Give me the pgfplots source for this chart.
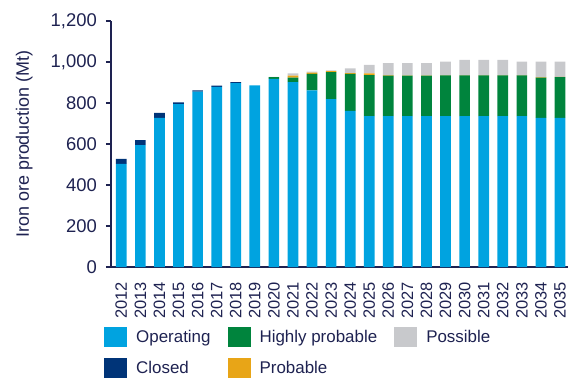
\documentclass[border=0pt]{standalone}
\usepackage{pgfplots}
\usepackage{pgfplotstable}
\pgfplotsset{compat=1.18}
\usepackage{fontspec}
\setmainfont{Liberation Sans}
\definecolor{opc}{RGB}{0,163,224}
\definecolor{clc}{RGB}{0,52,120}
\definecolor{hpc}{RGB}{0,132,61}
\definecolor{prc}{RGB}{232,165,23}
\definecolor{poc}{RGB}{200,201,204}
\definecolor{txc}{RGB}{30,34,81}

\pgfplotstableread{
x op cl hp pr po
0 503 25 0 0 0
1 595 24 0 0 0
2 728 24 0 0 0
3 795 8 0 0 0
4 855 6 0 0 0
5 879 6 0 0 0
6 897 5 0 0 0
7 886 0 0 0 0
8 918 0 8 0 1
9 902 0 22 10 10
10 861 0 81 6 5
11 819 0 131 5 4
12 761 0 181 4 23
13 736 0 200 8 42
14 736 0 198 2 58
15 736 0 198 1 59
16 736 0 198 1 59
17 736 0 199 1 66
18 736 0 199 1 74
19 736 0 199 1 74
20 736 0 199 1 74
21 736 0 199 1 66
22 728 0 196 2 76
23 728 0 198 1 75
}\datatable

\begin{document}
\begin{tikzpicture}
\begin{axis}[
  scale only axis, width=457bp, height=246bp,
  xmin=-0.54, xmax=23.42, ymin=0, ymax=1200,
  ybar stacked, bar width=0.56,
  axis lines*=left,
  axis line style={txc, line width=1.2bp},
  tick align=outside,
  major tick length=5bp,
  xtick={0,...,23},
  xticklabels={2012,2013,2014,2015,2016,2017,2018,2019,2020,2021,2022,2023,2024,2025,2026,2027,2028,2029,2030,2031,2032,2033,2034,2035},
  x tick style={draw=none},
  xticklabel style={rotate=90, anchor=east, font=\fontsize{16.5}{16.5}\selectfont, text=txc, inner ysep=0pt, inner xsep=10bp},
  ytick={0,200,400,600,800,1000,1200},
  yticklabels={0,200,400,600,800,{1,000},{1,200}},
  y tick style={txc, line width=1.2bp},
  yticklabel style={font=\fontsize{18.5}{18.5}\selectfont, text=txc, inner xsep=9bp},
  ylabel={Iron ore production (Mt)},
  every axis y label/.style={at={(axis description cs:-0.19,0.5)}, rotate=90, anchor=center, font=\fontsize{18}{18}\selectfont, text=txc},
  legend columns=3,
  legend cell align=left,
  legend image code/.code={\fill[#1] (0bp,-10bp) rectangle (23bp,10bp);},
  legend style={at={(axis description cs:-0.0153,-0.2427)}, anchor=north west, draw=none, fill=none, inner sep=0pt,
    font=\fontsize{17}{17}\selectfont, text=txc, column sep=9bp, row sep=11bp,
    nodes={inner sep=0pt},
    /tikz/every even column/.append style={column sep=17bp}},
]
\addplot[fill=opc, draw=none, forget plot] table[x=x, y=op] {\datatable};
\addplot[fill=clc, draw=none, forget plot] table[x=x, y=cl] {\datatable};
\addplot[fill=hpc, draw=none, forget plot] table[x=x, y=hp] {\datatable};
\addplot[fill=prc, draw=none, forget plot] table[x=x, y=pr] {\datatable};
\addplot[fill=poc, draw=none, forget plot] table[x=x, y=po] {\datatable};
\addlegendimage{fill=opc, draw=none}
\addlegendentry{Operating}
\addlegendimage{fill=hpc, draw=none}
\addlegendentry{Highly probable}
\addlegendimage{fill=poc, draw=none}
\addlegendentry{Possible}
\addlegendimage{fill=clc, draw=none}
\addlegendentry{Closed}
\addlegendimage{fill=prc, draw=none}
\addlegendentry{Probable}
\end{axis}
\pgfresetboundingbox
\path[use as bounding box] (-111bp,-110.7bp) rectangle (459bp,267bp);
\end{tikzpicture}
\end{document}
